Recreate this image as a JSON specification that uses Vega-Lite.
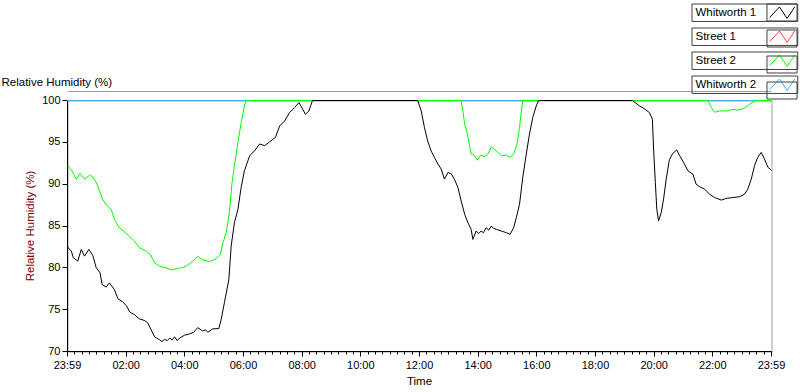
{
  "$schema": "https://vega.github.io/schema/vega-lite/v6.json",
  "width": 704,
  "height": 251,
  "autosize": {"type": "none"},
  "padding": {"left": 67.5, "top": 100.5, "right": 28.5, "bottom": 40},
  "background": "white",
  "config": {
    "view": {"stroke": "#a0a0a0"},
    "font": "Liberation Sans",
    "axis": {"translate": 0, "labelFont": "Liberation Sans", "labelFontSize": 11, "labelColor": "#000000", "domainColor": "#000000", "tickColor": "#000000", "grid": false, "titleFont": "Liberation Sans", "titleFontSize": 11.5, "titleFontWeight": "normal", "titleColor": "#000000"}
  },
  "datasets": {
    "s1": [{"h": 0, "v": 100}, {"h": 24, "v": 100}],
    "w2": [{"h": 0, "v": 100}, {"h": 24, "v": 100}],
    "s2": [
      {"h":0,"v":92.2},{"h":0.13,"v":91.7},{"h":0.3,"v":90.6},{"h":0.43,"v":91.3},{"h":0.58,"v":90.6},{"h":0.75,"v":91.05},{"h":0.86,"v":90.9},{"h":0.98,"v":90.2},{"h":1.09,"v":89.2},{"h":1.2,"v":88.2},{"h":1.32,"v":87.5},{"h":1.49,"v":87.0},{"h":1.6,"v":85.8},{"h":1.77,"v":84.8},{"h":1.94,"v":84.3},{"h":2.11,"v":83.8},{"h":2.28,"v":83.2},{"h":2.45,"v":82.4},{"h":2.68,"v":82.0},{"h":2.82,"v":81.6},{"h":2.97,"v":80.6},{"h":3.14,"v":80.2},{"h":3.36,"v":80.0},{"h":3.54,"v":79.75},{"h":3.71,"v":79.9},{"h":3.88,"v":80.0},{"h":4.05,"v":80.2},{"h":4.27,"v":80.8},{"h":4.44,"v":81.35},{"h":4.61,"v":80.95},{"h":4.84,"v":80.75},{"h":5.07,"v":81.1},{"h":5.21,"v":81.6},{"h":5.3,"v":83.0},{"h":5.41,"v":84.2},{"h":5.52,"v":86.6},{"h":5.61,"v":90.2},{"h":5.69,"v":92.2},{"h":5.81,"v":95.0},{"h":5.92,"v":97.35},{"h":6.03,"v":99.35},{"h":6.09,"v":100},
      {"h":13.42,"v":100},{"h":13.48,"v":98.75},{"h":13.54,"v":97.15},{"h":13.61,"v":96.35},{"h":13.68,"v":95.15},{"h":13.76,"v":93.6},{"h":13.88,"v":93.4},{"h":13.97,"v":92.85},{"h":14.08,"v":93.45},{"h":14.22,"v":93.3},{"h":14.33,"v":93.6},{"h":14.45,"v":94.45},{"h":14.56,"v":94.15},{"h":14.67,"v":93.8},{"h":14.79,"v":93.4},{"h":14.96,"v":93.45},{"h":15.1,"v":93.2},{"h":15.22,"v":93.65},{"h":15.32,"v":94.75},{"h":15.41,"v":96.75},{"h":15.47,"v":98.75},{"h":15.52,"v":100},
      {"h":21.83,"v":100},{"h":21.95,"v":99.15},{"h":22.06,"v":98.6},{"h":22.23,"v":98.75},{"h":22.46,"v":98.75},{"h":22.68,"v":98.95},{"h":22.85,"v":98.85},{"h":23.02,"v":99.0},{"h":23.14,"v":99.25},{"h":23.25,"v":99.55},{"h":23.37,"v":99.8},{"h":23.45,"v":100},{"h":24,"v":100}
    ],
    "w1": [
      {"h":0,"v":82.5},{"h":0.13,"v":82.0},{"h":0.2,"v":81.2},{"h":0.35,"v":80.8},{"h":0.47,"v":82.2},{"h":0.58,"v":81.4},{"h":0.73,"v":82.2},{"h":0.86,"v":81.5},{"h":0.98,"v":80.0},{"h":1.11,"v":79.4},{"h":1.18,"v":78.0},{"h":1.32,"v":77.7},{"h":1.43,"v":78.2},{"h":1.6,"v":77.4},{"h":1.72,"v":76.3},{"h":1.86,"v":76.0},{"h":2.0,"v":75.5},{"h":2.13,"v":74.7},{"h":2.28,"v":74.4},{"h":2.45,"v":73.9},{"h":2.63,"v":73.7},{"h":2.74,"v":73.4},{"h":2.85,"v":72.6},{"h":2.97,"v":71.75},{"h":3.14,"v":71.4},{"h":3.22,"v":71.2},{"h":3.31,"v":71.45},{"h":3.4,"v":71.3},{"h":3.48,"v":71.6},{"h":3.57,"v":71.4},{"h":3.65,"v":71.75},{"h":3.74,"v":71.3},{"h":3.82,"v":71.6},{"h":3.99,"v":71.95},{"h":4.16,"v":72.1},{"h":4.3,"v":72.3},{"h":4.44,"v":72.85},{"h":4.61,"v":72.45},{"h":4.7,"v":72.6},{"h":4.78,"v":72.3},{"h":4.95,"v":72.7},{"h":5.16,"v":72.75},{"h":5.24,"v":73.85},{"h":5.35,"v":75.85},{"h":5.5,"v":78.6},{"h":5.58,"v":82.6},{"h":5.69,"v":85.4},{"h":5.81,"v":87.0},{"h":5.92,"v":89.6},{"h":6.03,"v":91.6},{"h":6.21,"v":93.4},{"h":6.38,"v":94.0},{"h":6.55,"v":94.8},{"h":6.72,"v":94.6},{"h":6.89,"v":95.05},{"h":7.09,"v":95.6},{"h":7.23,"v":96.95},{"h":7.4,"v":97.55},{"h":7.57,"v":98.55},{"h":7.74,"v":99.15},{"h":7.89,"v":99.75},{"h":8.02,"v":98.95},{"h":8.11,"v":98.35},{"h":8.23,"v":98.75},{"h":8.35,"v":100},
      {"h":11.94,"v":100},{"h":12.06,"v":98.75},{"h":12.17,"v":96.75},{"h":12.28,"v":95.15},{"h":12.4,"v":93.95},{"h":12.51,"v":93.2},{"h":12.63,"v":92.4},{"h":12.74,"v":91.8},{"h":12.85,"v":90.6},{"h":12.97,"v":91.4},{"h":13.08,"v":91.25},{"h":13.19,"v":90.6},{"h":13.31,"v":89.6},{"h":13.42,"v":88.0},{"h":13.54,"v":86.4},{"h":13.65,"v":85.4},{"h":13.76,"v":84.6},{"h":13.82,"v":83.4},{"h":13.93,"v":84.4},{"h":14.02,"v":84.1},{"h":14.1,"v":84.4},{"h":14.18,"v":84.2},{"h":14.27,"v":84.8},{"h":14.36,"v":84.5},{"h":14.45,"v":85.0},{"h":14.53,"v":84.7},{"h":14.62,"v":84.6},{"h":14.79,"v":84.4},{"h":14.96,"v":84.2},{"h":15.09,"v":84.0},{"h":15.21,"v":84.8},{"h":15.3,"v":86.0},{"h":15.41,"v":87.6},{"h":15.52,"v":90.8},{"h":15.64,"v":93.6},{"h":15.75,"v":96.0},{"h":15.86,"v":97.95},{"h":15.98,"v":99.35},{"h":16.06,"v":100},
      {"h":19.26,"v":100},{"h":19.5,"v":99.35},{"h":19.67,"v":99.0},{"h":19.84,"v":98.55},{"h":19.94,"v":97.75},{"h":19.98,"v":94.2},{"h":20.04,"v":90.2},{"h":20.09,"v":87.0},{"h":20.15,"v":85.6},{"h":20.24,"v":86.6},{"h":20.32,"v":88.2},{"h":20.41,"v":90.6},{"h":20.52,"v":92.95},{"h":20.64,"v":93.7},{"h":20.77,"v":94.1},{"h":20.87,"v":93.4},{"h":20.98,"v":92.75},{"h":21.15,"v":91.6},{"h":21.32,"v":91.2},{"h":21.43,"v":90.0},{"h":21.55,"v":89.7},{"h":21.72,"v":89.4},{"h":21.89,"v":88.8},{"h":22.06,"v":88.4},{"h":22.29,"v":88.1},{"h":22.46,"v":88.3},{"h":22.68,"v":88.4},{"h":22.91,"v":88.5},{"h":23.08,"v":88.8},{"h":23.19,"v":89.4},{"h":23.31,"v":90.6},{"h":23.42,"v":92.2},{"h":23.53,"v":93.2},{"h":23.65,"v":93.8},{"h":23.76,"v":93.0},{"h":23.88,"v":92.0},{"h":24,"v":91.65}
    ]
  },
  "resolve": {"axis": {"x": "independent"}},
  "encoding": {
    "y": {
      "field": "v", "type": "quantitative",
      "scale": {"domain": [70, 100], "nice": false, "zero": false},
      "axis": {"values": [70, 75, 80, 85, 90, 95, 100], "tickSize": 5, "labelPadding": 2, "title": "Relative Humidity (%)", "titleColor": "#800000", "titlePadding": 6}
    }
  },
  "layer": [
    {
      "data": {"name": "s1"},
      "mark": {"type": "line", "strokeWidth": 1},
      "encoding": {
        "x": {"field": "h", "type": "quantitative", "scale": {"domain": [0, 24], "nice": false, "zero": false},
              "axis": {"orient": "top", "offset": 9, "domainColor": "#a0a0a0", "ticks": false, "labels": false,
                       "title": "Relative Humidity (%)", "titleX": -66, "titleY": -3.5, "titleAlign": "left", "titleBaseline": "bottom", "titleAngle": 0}},
        "color": {"datum": "Street 1", "type": "nominal",
          "scale": {"domain": ["Whitworth 1", "Street 1", "Street 2", "Whitworth 2"], "range": ["#000000", "#ff4040", "#00ff00", "#40b0f0"]},
          "legend": {"orient": "none", "legendX": 624, "legendY": -97, "title": null, "padding": 0,
            "symbolType": "M-1.45,0.6L-0.3,-0.65L0.6,0.7L1.5,-0.65", "symbolSize": 289, "symbolOffset": 81.5, "symbolStrokeWidth": 1, "symbolFillColor": "transparent",
            "labelOffset": -95.5, "labelFont": "Liberation Sans", "labelFontSize": 11.5, "labelColor": "#000000", "rowPadding": 6,
            "encode": {"entries": {"update": {"width": {"value": 70}, "height": {"value": 17}, "stroke": {"value": "#404040"}, "strokeWidth": {"value": 1}}}}}
        },
        "opacity": {"datum": "Street 1", "type": "nominal",
          "scale": {"range": [1, 1, 1, 1]},
          "legend": {"orient": "none", "legendX": 624, "legendY": -97, "title": null, "padding": 0,
            "symbolType": "M-1.765,-1H1.765V1H-1.765Z", "symbolSize": 289, "symbolOffset": 81.5, "symbolStrokeWidth": 1, "symbolStrokeColor": "#404040", "symbolFillColor": "transparent",
            "labelExpr": "''", "labelOffset": -95.5, "labelFontSize": 11.5, "rowPadding": 4,
            "encode": {"symbols": {"update": {"stroke": {"value": "#404040"}, "opacity": {"value": 1}}}}}
        }
      }
    },
    {
      "data": {"name": "w2"},
      "mark": {"type": "line", "strokeWidth": 1},
      "encoding": {
        "x": {"field": "h", "type": "quantitative", "axis": null},
        "color": {"datum": "Whitworth 2", "type": "nominal"},
        "opacity": {"datum": "Whitworth 2", "type": "nominal"}
      }
    },
    {
      "data": {"name": "s2"},
      "mark": {"type": "line", "strokeWidth": 1},
      "encoding": {
        "x": {"field": "h", "type": "quantitative", "axis": null},
        "color": {"datum": "Street 2", "type": "nominal"},
        "opacity": {"datum": "Street 2", "type": "nominal"}
      }
    },
    {
      "data": {"name": "w1"},
      "mark": {"type": "line", "strokeWidth": 1},
      "encoding": {
        "x": {"field": "h", "type": "quantitative",
          "axis": {"values": [0,0.25,0.5,0.75,1,1.25,1.5,1.75,2,2.25,2.5,2.75,3,3.25,3.5,3.75,4,4.25,4.5,4.75,5,5.25,5.5,5.75,6,6.25,6.5,6.75,7,7.25,7.5,7.75,8,8.25,8.5,8.75,9,9.25,9.5,9.75,10,10.25,10.5,10.75,11,11.25,11.5,11.75,12,12.25,12.5,12.75,13,13.25,13.5,13.75,14,14.25,14.5,14.75,15,15.25,15.5,15.75,16,16.25,16.5,16.75,17,17.25,17.5,17.75,18,18.25,18.5,18.75,19,19.25,19.5,19.75,20,20.25,20.5,20.75,21,21.25,21.5,21.75,22,22.25,22.5,22.75,23,23.25,23.5,23.75,24],
            "labelExpr": "datum.value == 0 || datum.value == 24 ? '23:59' : (datum.value % 2 == 0 ? (datum.value < 10 ? '0' : '') + datum.value + ':00' : '')",
            "tickSize": {"condition": {"test": "datum.value % 2 == 0", "value": 5}, "value": 3},
            "labelFlush": false, "labelOverlap": false, "labelPadding": 3, "title": "Time", "titlePadding": 5}
        },
        "color": {"datum": "Whitworth 1", "type": "nominal"},
        "opacity": {"datum": "Whitworth 1", "type": "nominal"}
      }
    }
  ]
}
